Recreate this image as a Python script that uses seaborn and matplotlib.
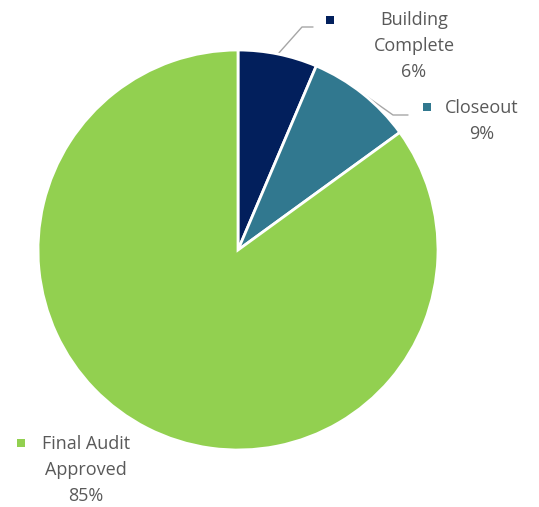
import numpy as np
import matplotlib.pyplot as plt
import seaborn as sns

# -------------------------
# Data
# -------------------------
categories = ["Building Complete", "Closeout", "Final Audit Approved"]
label_lines = ["Building\nComplete", "Closeout", "Final Audit\nApproved"]
values = [6.4, 8.6, 85.0]
colors = ["#021F5C", "#31788F", "#92D050"]

sns.set_theme(style="white")
plt.rcParams['font.family'] = ['Open Sans', 'DejaVu Sans']

W, H = 539, 507
fig = plt.figure(figsize=(W / 100, H / 100), dpi=100)
ax = fig.add_axes([0, 0, 1, 1])

cx, cy, r = 238, H - 250, 200
wedges, _ = ax.pie(values, colors=sns.color_palette(colors), startangle=90,
                   counterclock=False, radius=r, center=(cx, cy),
                   wedgeprops=dict(edgecolor="white", linewidth=2))
ax.set_xlim(0, W)
ax.set_ylim(0, H)
ax.set_aspect("equal")
ax.axis("off")

text_col = "#595959"
fs = 13

# label placement (pixel coords, y from top): text centre, marker centre
label_pos = [(414, 46, 330, 20), (482, 121, 427, 107), (86, 470, 21, 443)]

for i, (wdg, lab, val) in enumerate(zip(wedges, label_lines, values)):
    tx, ty, mx, my = label_pos[i]
    pct = f"{round(val / sum(values) * 100)}%"
    ax.text(tx, H - ty, f"{lab}\n{pct}", ha="center", va="center",
            fontsize=fs, color=text_col, linespacing=1.58)
    ax.scatter([mx], [H - my], marker="s", s=32, color=colors[i], linewidths=0)

# leader lines for the small slices
leaders = [((302, 27), (313, 27)), ((393, 115), (408, 115))]
for wdg, (elbow, end) in zip(wedges[:2], leaders):
    mid = np.deg2rad((wdg.theta1 + wdg.theta2) / 2)
    sx, sy = cx + r * np.cos(mid), cy + r * np.sin(mid)
    ax.plot([sx, elbow[0], end[0]], [sy, H - elbow[1], H - end[1]],
            color="#A6A6A6", linewidth=1, zorder=0.5)

plt.savefig("out.png", dpi=100)
plt.close()
